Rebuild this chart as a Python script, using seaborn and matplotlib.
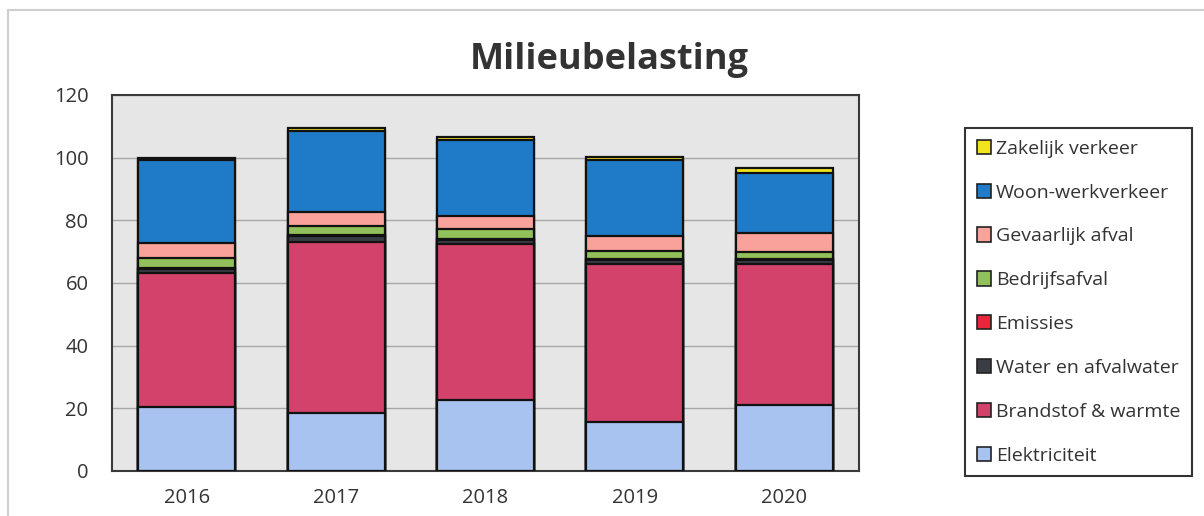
import pandas as pd
import matplotlib.pyplot as plt
import seaborn as sns
from matplotlib.patches import Patch
from matplotlib.lines import Line2D

# ----------------------------------------
# Data
# ----------------------------------------
years = ["2016", "2017", "2018", "2019", "2020"]

# bottom -> top stacking order
categories = [
    "Elektriciteit",
    "Brandstof & warmte",
    "Water en afvalwater",
    "Emissies",
    "Bedrijfsafval",
    "Gevaarlijk afval",
    "Woon-werkverkeer",
    "Zakelijk verkeer",
]

elektriciteit = [20.5, 18.5, 22.7, 15.7, 21.0]
brandstof = [42.6, 54.5, 49.6, 50.3, 45.0]
water = [1.5, 2.0, 1.5, 1.5, 1.5]
emissies = [0.3, 0.3, 0.3, 0.3, 0.3]
bedrijfsafval = [3.0, 3.0, 3.0, 2.5, 2.0]
gevaarlijk = [4.8, 4.5, 4.2, 4.8, 6.0]
woon_werk = [26.5, 25.8, 24.2, 24.0, 19.2]
zakelijk = [0.8, 0.9, 1.0, 1.0, 1.6]

colors = [
    "#a8c3ef",  # Elektriciteit
    "#d2426a",  # Brandstof & warmte
    "#3a3d44",  # Water en afvalwater
    "#e8253c",  # Emissies
    "#92c05a",  # Bedrijfsafval
    "#f9a29c",  # Gevaarlijk afval
    "#1f7bc8",  # Woon-werkverkeer
    "#f2e41c",  # Zakelijk verkeer
]

series = [elektriciteit, brandstof, water, emissies,
          bedrijfsafval, gevaarlijk, woon_werk, zakelijk]

rows = []
for cat, vals in zip(categories, series):
    for y, v in zip(years, vals):
        rows.append({"year": y, "category": cat, "value": v})
df = pd.DataFrame(rows)
df["category"] = pd.Categorical(df["category"], categories=categories, ordered=True)
df = df.sort_values(["year", "category"])
df["cum"] = df.groupby("year")["value"].cumsum()

# ----------------------------------------
# Plot
# ----------------------------------------
sns.set_style("white")
plt.rcParams["font.family"] = ["Open Sans", "DejaVu Sans"]
text_color = "#333333"

fig = plt.figure(figsize=(12.04, 5.16), dpi=100)
ax = fig.add_axes([112 / 1204, 1 - 471 / 516, 747 / 1204, 376 / 516])
ax.set_facecolor("#e6e6e6")

# draw from top layer down so each cumulative bar covers the ones above it
for cat, col in zip(reversed(categories), reversed(colors)):
    sub = df[df["category"] == cat]
    sns.barplot(
        data=sub, x="year", y="cum", order=years,
        color=col, saturation=1, width=0.65,
        edgecolor="#111111", linewidth=1.6, ax=ax, zorder=3,
    )

ax.set_ylim(0, 120)
ax.set_xlim(-0.5, 4.5)
ax.set_yticks(range(0, 121, 20))
ax.yaxis.grid(True, color="#a8a8a8", linewidth=1.0, zorder=0)
ax.set_axisbelow(True)
ax.set_xlabel("")
ax.set_ylabel("")
ax.tick_params(axis="both", length=0, labelsize=14.5, colors=text_color)
ax.tick_params(axis="y", pad=17)
ax.tick_params(axis="x", pad=12)
for s in ax.spines.values():
    s.set_visible(True)
    s.set_color("#3a3a3a")
    s.set_linewidth(1.5)

fig.text(609 / 1204, 1 - 60 / 516, "Milieubelasting", ha="center", va="center",
         fontsize=26, fontweight="bold", color=text_color)

# legend, top entry first
handles = [Patch(facecolor=c, edgecolor="#222222", linewidth=1.2)
           for c in reversed(colors)]
leg = fig.legend(
    handles, list(reversed(categories)),
    loc="upper left", bbox_to_anchor=(965 / 1204, 1 - 128 / 516),
    bbox_transform=fig.transFigure, borderaxespad=0,
    fontsize=14, frameon=True, fancybox=False, framealpha=1,
    edgecolor="#333333", handlelength=0.75, handleheight=0.75,
    handletextpad=0.25, labelspacing=1.33, borderpad=0.6,
)
leg.get_frame().set_linewidth(1.5)
for t in leg.get_texts():
    t.set_color(text_color)

# light outer frame of the chart
fig.add_artist(Line2D([8 / 1204, 1], [1 - 10 / 516] * 2,
                      transform=fig.transFigure, color="#cfcfcf", lw=1.5))
fig.add_artist(Line2D([8 / 1204] * 2, [0, 1 - 10 / 516],
                      transform=fig.transFigure, color="#cfcfcf", lw=1.5))

fig.savefig("out.png", dpi=100, facecolor="white")
